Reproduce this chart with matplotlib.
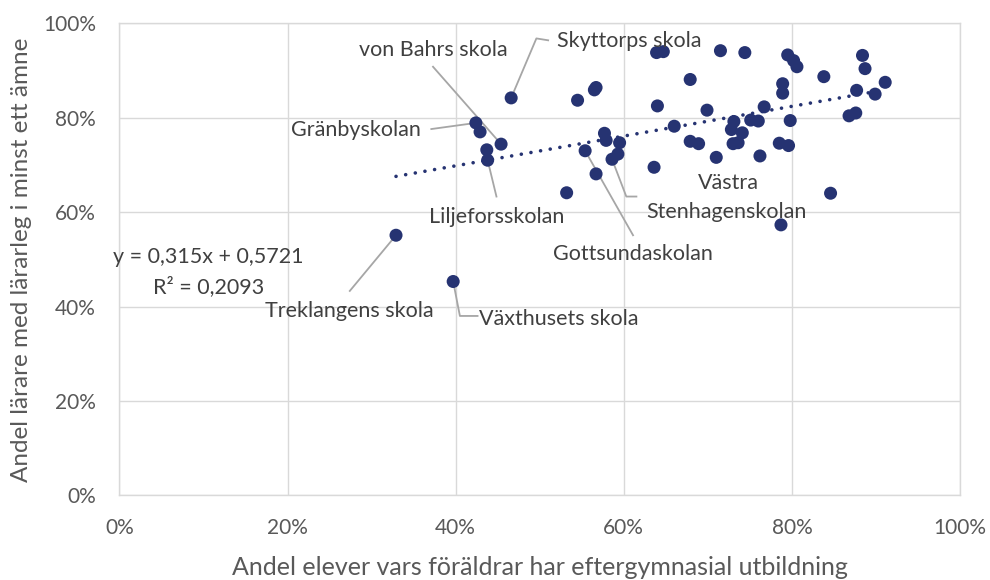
import matplotlib
matplotlib.use("Agg")
import matplotlib.pyplot as plt
from matplotlib.ticker import PercentFormatter
import numpy as np

plt.rcParams['font.family'] = ['Lato', 'DejaVu Sans']

# ---- data (fractions) ----
x_share = [0.466, 0.424, 0.429, 0.454, 0.437, 0.438, 0.329, 0.397,
           0.639, 0.647, 0.715, 0.744, 0.795, 0.802, 0.806, 0.884, 0.887,
           0.838, 0.679, 0.789, 0.789, 0.911, 0.877, 0.899, 0.567, 0.565,
           0.545, 0.640, 0.699, 0.767, 0.876, 0.868, 0.798, 0.660, 0.731,
           0.728, 0.751, 0.760, 0.741, 0.577, 0.579, 0.595, 0.593, 0.586,
           0.554, 0.567, 0.532, 0.636, 0.679, 0.689, 0.730, 0.736, 0.710,
           0.762, 0.785, 0.796, 0.846, 0.787]
y_share = [0.842, 0.789, 0.770, 0.744, 0.732, 0.710, 0.551, 0.453,
           0.938, 0.940, 0.942, 0.938, 0.933, 0.921, 0.908, 0.932, 0.904,
           0.887, 0.881, 0.872, 0.852, 0.875, 0.858, 0.850, 0.864, 0.859,
           0.837, 0.825, 0.816, 0.823, 0.810, 0.804, 0.794, 0.782, 0.792,
           0.775, 0.795, 0.793, 0.768, 0.767, 0.752, 0.747, 0.723, 0.712,
           0.730, 0.681, 0.641, 0.695, 0.750, 0.745, 0.745, 0.747, 0.716,
           0.719, 0.746, 0.741, 0.640, 0.573]

trend_slope = 0.315
trend_intercept = 0.5721
r_squared = "0,2093"

x_ticks = [0, 0.2, 0.4, 0.6, 0.8, 1.0]
y_ticks = [0, 0.2, 0.4, 0.6, 0.8, 1.0]

x_title = "Andel elever vars föräldrar har eftergymnasial utbildning"
y_title = "Andel lärare med lärarleg i minst ett ämne"

# school labels: name -> index of point
school_names = ["Skyttorps skola", "Gränbyskolan", "von Bahrs skola", "Liljeforsskolan",
                "Treklangens skola", "Växthusets skola", "Stenhagenskolan", "Gottsundaskolan"]
school_index = [0, 1, 3, 5, 6, 7, 43, 44]
extra_label = "Västra"

# ---- layout of labels (text position, ha, leader bend points) ----
label_layout = {
    "Skyttorps skola": ((0.520, 0.962), 'left', [(0.510, 0.964), (0.496, 0.968)]),
    "Gränbyskolan": ((0.359, 0.774), 'right', [(0.371, 0.776)]),
    "von Bahrs skola": ((0.373, 0.943), 'center', [(0.373, 0.908)]),
    "Liljeforsskolan": ((0.449, 0.590), 'center', [(0.4485, 0.633)]),
    "Treklangens skola": ((0.273, 0.390), 'center', [(0.274, 0.433)]),
    "Växthusets skola": ((0.428, 0.374), 'left', [(0.426, 0.380), (0.405, 0.380)]),
    "Stenhagenskolan": ((0.627, 0.600), 'left', [(0.615, 0.633), (0.603, 0.633)]),
    "Gottsundaskolan": ((0.611, 0.511), 'center', [(0.611, 0.551)]),
}

navy = '#263372'
text_col = '#595959'
label_col = '#404040'
grid_col = '#d9d9d9'
leader_col = '#a6a6a6'
lab_fs = 15.5

fig = plt.figure(figsize=(9.9, 5.8), dpi=100)
ax = fig.add_axes([0.1207, 0.146, 0.849, 0.8138])

xs = np.array(x_share)
ys = np.array(y_share)

# trend line
xl = np.array([xs.min(), xs.max()])
ax.plot(xl, trend_slope * xl + trend_intercept, color=navy, lw=2.6,
        linestyle=(0, (0.01, 2.7)), dash_capstyle='round', zorder=2)

ax.scatter(xs, ys, s=88, color=navy, edgecolors='none', zorder=4)

# labels with leader lines
for name, idx in zip(school_names, school_index):
    (tx, ty), ha, bends = label_layout[name]
    pts = bends + [(xs[idx], ys[idx])]
    ax.plot([p[0] for p in pts], [p[1] for p in pts], color=leader_col, lw=1.3, zorder=3)
    ax.text(tx, ty, name, ha=ha, va='center', fontsize=lab_fs, color=label_col, zorder=5)

ax.text(0.724, 0.662, extra_label, ha='center', va='center', fontsize=lab_fs, color=label_col)

eq_text = f"y = {str(trend_slope).replace('.', ',')}x + {str(trend_intercept).replace('.', ',')}"
ax.text(0.106, 0.504, eq_text, ha='center', va='center', fontsize=lab_fs, color=label_col)
ax.text(0.106, 0.443, f"R² = {r_squared}", ha='center', va='center', fontsize=lab_fs, color=label_col)

ax.set_xlim(0, 1)
ax.set_ylim(0, 1)
ax.set_xticks(x_ticks)
ax.set_yticks(y_ticks)
ax.xaxis.set_major_formatter(PercentFormatter(1.0, decimals=0))
ax.yaxis.set_major_formatter(PercentFormatter(1.0, decimals=0))
ax.tick_params(length=0, labelsize=15, labelcolor=text_col)
ax.tick_params(axis='x', pad=16)
ax.tick_params(axis='y', pad=17)
ax.grid(True, color=grid_col, lw=1)
ax.set_axisbelow(True)
for sp in ax.spines.values():
    sp.set_color(grid_col)
    sp.set_linewidth(1)

ax.set_xlabel(x_title, fontsize=18, color=text_col, labelpad=13)
ax.set_ylabel(y_title, fontsize=17.5, color=text_col)
ax.yaxis.set_label_coords(-0.1045, 0.5)

fig.savefig("out.png", dpi=100)
